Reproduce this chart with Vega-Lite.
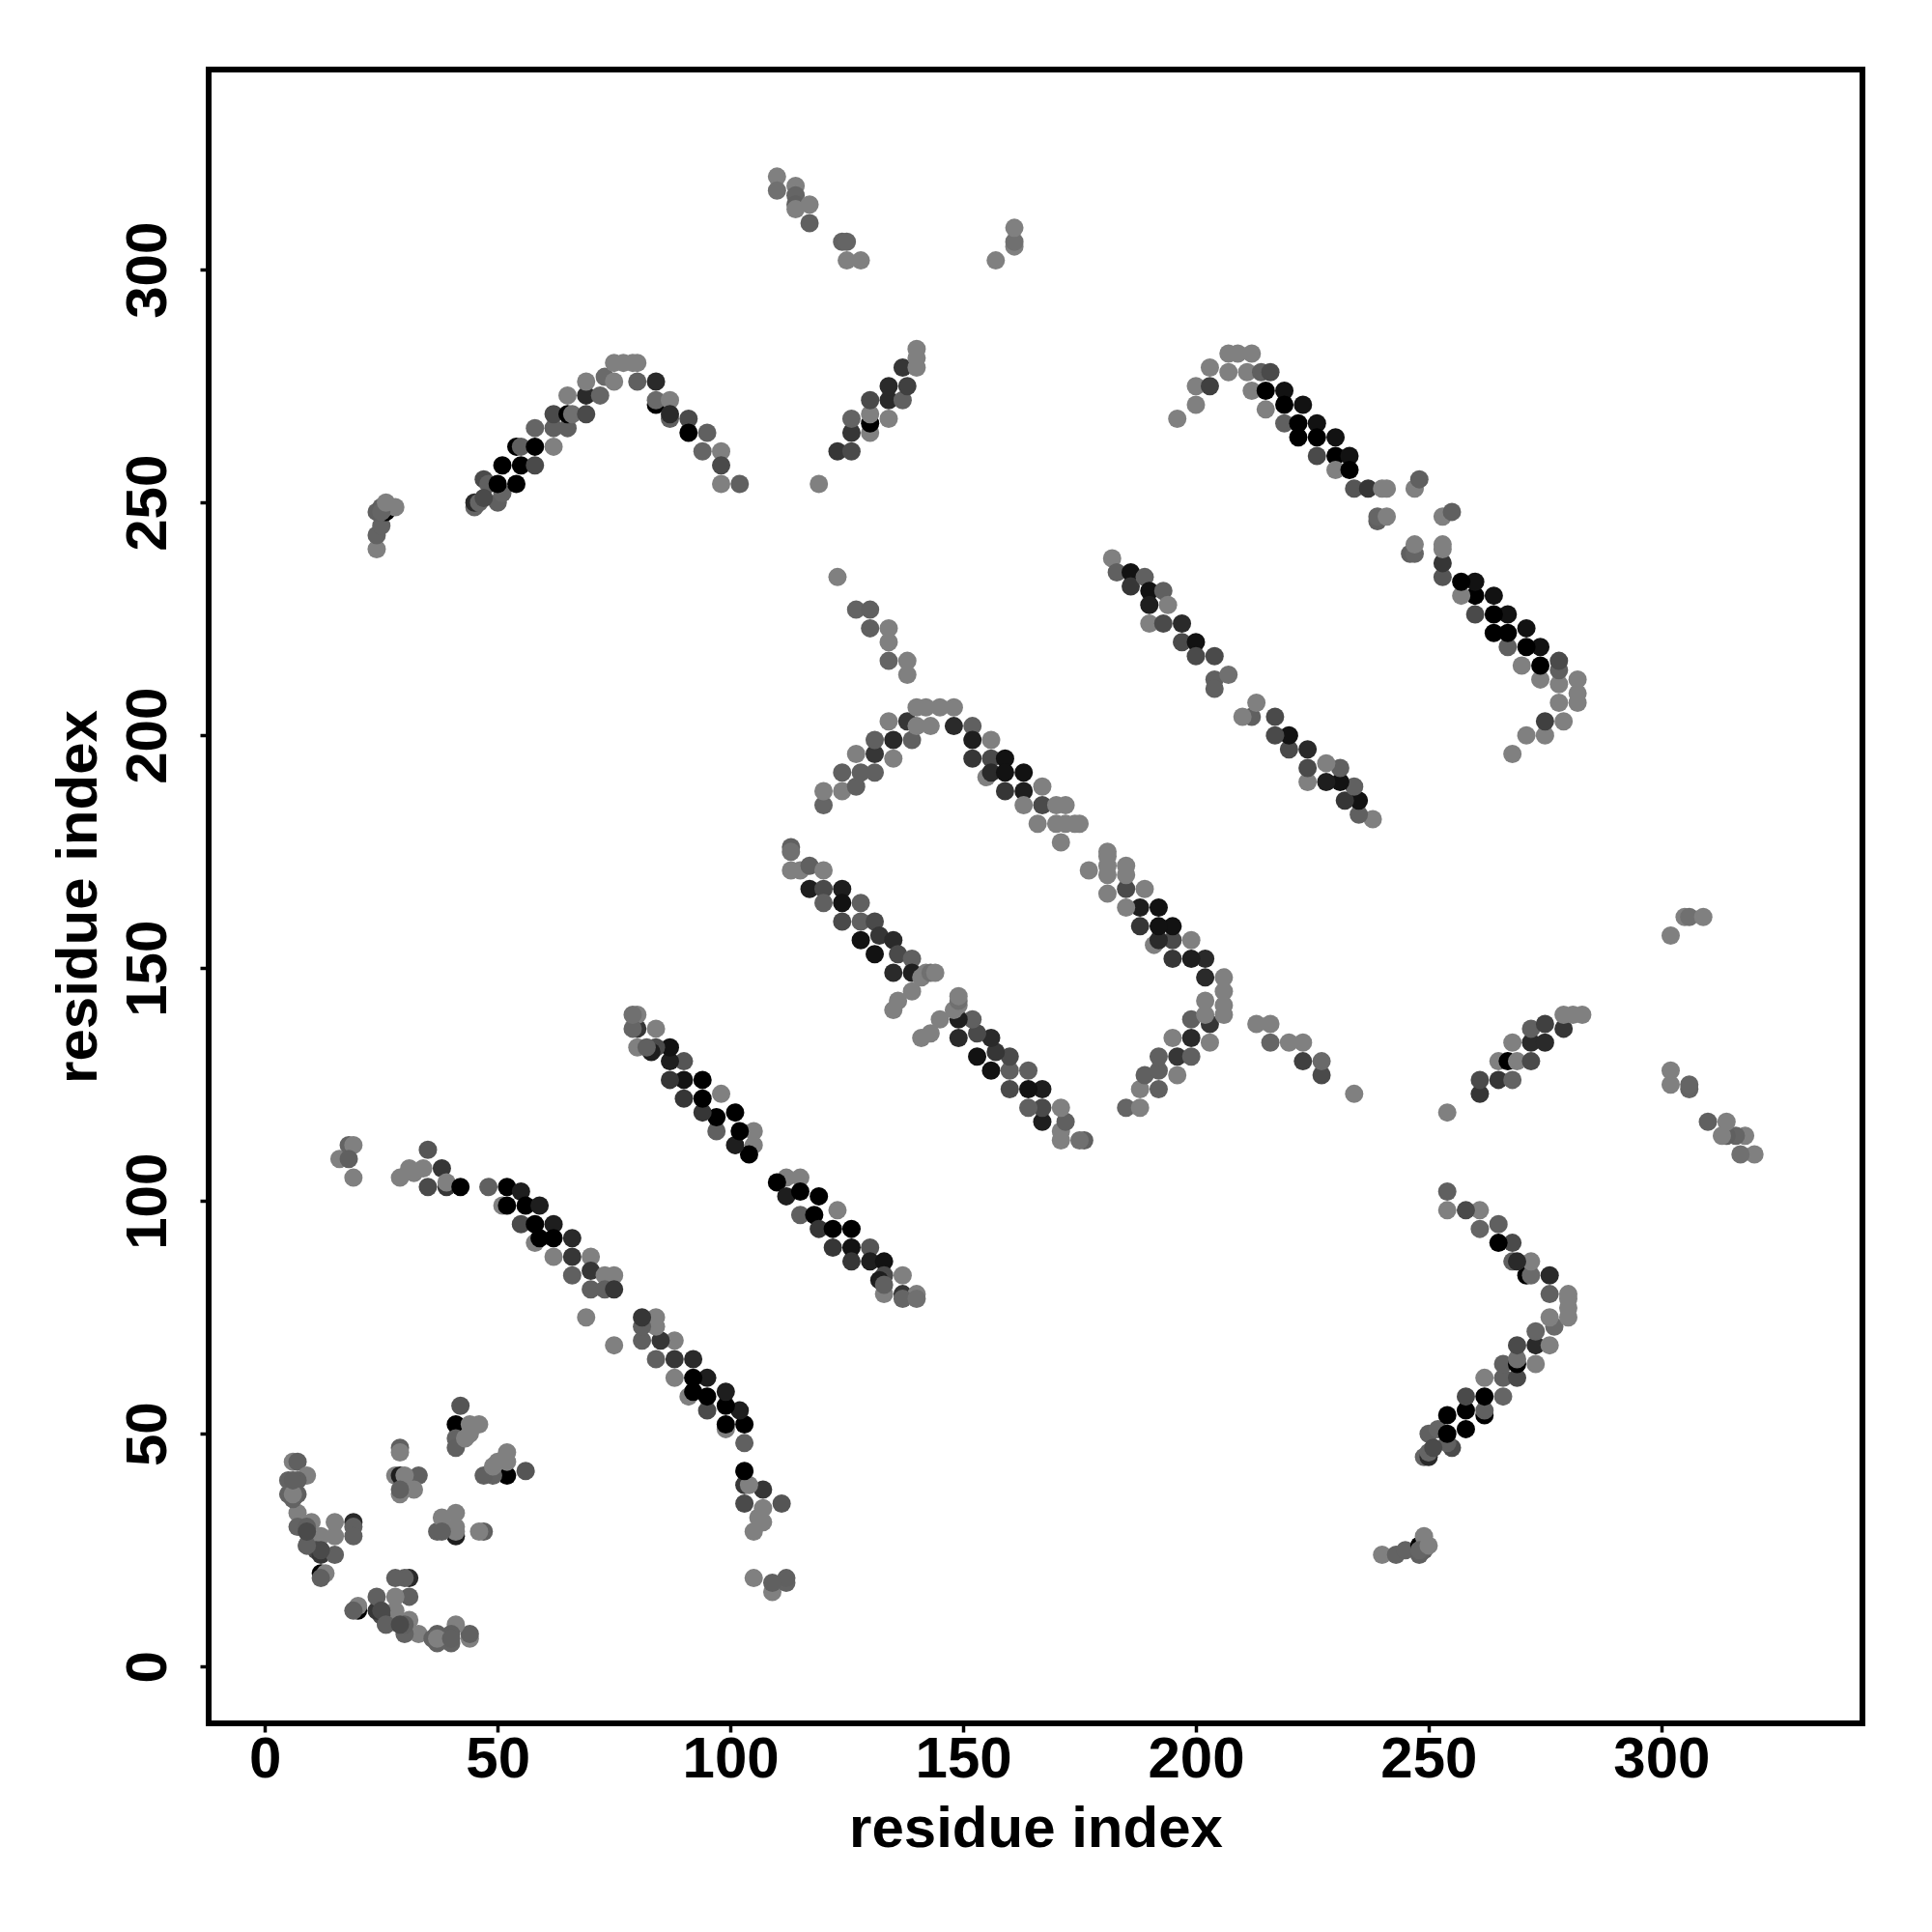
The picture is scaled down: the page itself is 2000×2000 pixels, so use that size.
{"$schema":"https://vega.github.io/schema/vega-lite/v6.json","width":1712,"height":1712,"autosize":"none","padding":{"left":216,"top":72,"right":72,"bottom":216},"background":"white","config":{"view":{"stroke":"black","strokeWidth":6,"fill":"white"}},
"data":{"values":[
{"i":6,"j":44,"s":0},{"i":44,"j":6,"s":0},{"i":7,"j":44,"s":0.6},{"i":44,"j":7,"s":0.6},{"i":9,"j":41,"s":0},{"i":41,"j":9,"s":0},{"i":5,"j":40,"s":0.55},{"i":40,"j":5,"s":0.55},{"i":7,"j":40,"s":0.6},{"i":40,"j":7,"s":0.6},{"i":5,"j":37,"s":0.55},{"i":37,"j":5,"s":0.55},{"i":7,"j":37,"s":0.6},{"i":37,"j":7,"s":0.6},{"i":7,"j":33,"s":0},{"i":33,"j":7,"s":0},{"i":7,"j":30,"s":0.55},{"i":30,"j":7,"s":0.55},{"i":10,"j":31,"s":0},{"i":31,"j":10,"s":0},{"i":9,"j":30,"s":0.6},{"i":30,"j":9,"s":0.6},{"i":9,"j":26,"s":0},{"i":26,"j":9,"s":0},{"i":10,"j":28,"s":0.6},{"i":28,"j":10,"s":0.6},{"i":12,"j":28,"s":0},{"i":28,"j":12,"s":0},{"i":11,"j":25,"s":0.7},{"i":25,"j":11,"s":0.7},{"i":12,"j":24,"s":0.8},{"i":24,"j":12,"s":0.8},{"i":15,"j":24,"s":0.6},{"i":24,"j":15,"s":0.6},{"i":15,"j":31,"s":0},{"i":31,"j":15,"s":0.6},{"i":15,"j":28,"s":0},{"i":28,"j":15,"s":0},{"i":19,"j":31,"s":0.85},{"i":31,"j":19,"s":0.85},{"i":19,"j":30,"s":0.6},{"i":30,"j":19,"s":0.6},{"i":19,"j":28,"s":0.6},{"i":28,"j":19,"s":0.6},{"i":12,"j":20,"s":1},{"i":20,"j":12,"s":1},{"i":13,"j":20,"s":0},{"i":20,"j":13,"s":0},{"i":12,"j":19,"s":0.6},{"i":19,"j":12,"s":0.6},
{"i":29,"j":47,"s":0.6},{"i":47,"j":29,"s":0.6},{"i":29,"j":46,"s":0},{"i":46,"j":29,"s":0},{"i":28,"j":41,"s":0},{"i":41,"j":28,"s":0.9},{"i":29,"j":41,"s":0.9},{"i":41,"j":29,"s":0},{"i":33,"j":41,"s":0.6},{"i":41,"j":33,"s":0},{"i":30,"j":41,"s":0},{"i":41,"j":30,"s":0},{"i":29,"j":37,"s":0},{"i":37,"j":29,"s":0.6},{"i":32,"j":38,"s":0},{"i":38,"j":32,"s":0},{"i":29,"j":38,"s":0.6},{"i":38,"j":29,"s":0.6},
{"i":42,"j":56,"s":0.65},{"i":56,"j":42,"s":0.65},{"i":41,"j":52,"s":1},{"i":52,"j":41,"s":1},{"i":44,"j":52,"s":0},{"i":52,"j":44,"s":0},{"i":46,"j":52,"s":0},{"i":52,"j":46,"s":0},{"i":41,"j":49,"s":0.55},{"i":49,"j":41,"s":0.55},{"i":41,"j":47,"s":0.6},{"i":47,"j":41,"s":0.6},{"i":44,"j":50,"s":0},{"i":50,"j":44,"s":0},{"i":43,"j":49,"s":0},{"i":49,"j":43,"s":0},
{"i":25,"j":12,"s":0.7},{"i":12,"j":25,"s":0.7},{"i":26,"j":9,"s":0.6},{"i":9,"j":26,"s":0.6},{"i":29,"j":9,"s":0.7},{"i":9,"j":29,"s":0.7},{"i":36,"j":6,"s":0.55},{"i":6,"j":36,"s":0.55},{"i":37,"j":6,"s":0},{"i":6,"j":37,"s":0},{"i":40,"j":6,"s":0.6},{"i":6,"j":40,"s":0.6},
{"i":16,"j":109,"s":0},{"i":109,"j":16,"s":0},{"i":18,"j":112,"s":0.55},{"i":112,"j":18,"s":0.55},{"i":19,"j":112,"s":0},{"i":112,"j":19,"s":0.6},{"i":18,"j":109,"s":0.6},{"i":109,"j":18,"s":0.6},{"i":19,"j":105,"s":0},{"i":105,"j":19,"s":0},{"i":29,"j":105,"s":0},{"i":105,"j":29,"s":0},{"i":31,"j":107,"s":0},{"i":107,"j":31,"s":0},{"i":32,"j":106,"s":0},{"i":106,"j":32,"s":0},{"i":35,"j":111,"s":0.65},{"i":111,"j":35,"s":0.65},{"i":34,"j":107,"s":0},{"i":107,"j":34,"s":0},{"i":35,"j":103,"s":0.7},{"i":103,"j":35,"s":0.7},{"i":38,"j":107,"s":0.8},{"i":107,"j":38,"s":0.8},{"i":39,"j":103,"s":0.8},{"i":103,"j":39,"s":0.8},{"i":39,"j":104,"s":0},{"i":104,"j":39,"s":0},{"i":42,"j":103,"s":1},{"i":103,"j":42,"s":1},
{"i":48,"j":103,"s":0.6},{"i":103,"j":48,"s":0.6},{"i":52,"j":103,"s":1},{"i":103,"j":52,"s":1},{"i":55,"j":102,"s":0.9},{"i":102,"j":55,"s":0.9},{"i":51,"j":99,"s":0},{"i":99,"j":51,"s":0},{"i":52,"j":99,"s":1},{"i":99,"j":52,"s":1},{"i":56,"j":99,"s":1},{"i":99,"j":56,"s":1},{"i":59,"j":99,"s":0.9},{"i":99,"j":59,"s":0.9},{"i":55,"j":95,"s":0.7},{"i":95,"j":55,"s":0.7},{"i":58,"j":95,"s":1},{"i":95,"j":58,"s":1},{"i":62,"j":95,"s":0.9},{"i":95,"j":62,"s":0.9},{"i":58,"j":91,"s":0},{"i":91,"j":58,"s":0},{"i":59,"j":92,"s":1},{"i":92,"j":59,"s":1},{"i":62,"j":92,"s":1},{"i":92,"j":62,"s":1},{"i":66,"j":92,"s":0.85},{"i":92,"j":66,"s":0.85},{"i":62,"j":88,"s":0},{"i":88,"j":62,"s":0},{"i":66,"j":88,"s":0.8},{"i":88,"j":66,"s":0.8},{"i":70,"j":88,"s":0},{"i":88,"j":70,"s":0},{"i":66,"j":84,"s":0.6},{"i":84,"j":66,"s":0.6},{"i":70,"j":85,"s":0.8},{"i":85,"j":70,"s":0.8},{"i":73,"j":84,"s":0},{"i":84,"j":73,"s":0},{"i":75,"j":84,"s":0},{"i":84,"j":75,"s":0},{"i":70,"j":81,"s":0.6},{"i":81,"j":70,"s":0.6},{"i":73,"j":81,"s":0.6},{"i":81,"j":73,"s":0.6},{"i":75,"j":81,"s":0.8},{"i":81,"j":75,"s":0.8},{"i":69,"j":75,"s":0},{"i":75,"j":69,"s":0},
{"i":105,"j":112,"s":0},{"i":112,"j":105,"s":0},{"i":104,"j":110,"s":1},{"i":110,"j":104,"s":1},{"i":105,"j":115,"s":0},{"i":115,"j":105,"s":0},{"i":101,"j":112,"s":0.9},{"i":112,"j":101,"s":0.9},{"i":102,"j":115,"s":1},{"i":115,"j":102,"s":1},{"i":101,"j":119,"s":1},{"i":119,"j":101,"s":1},{"i":97,"j":115,"s":0.6},{"i":115,"j":97,"s":0.6},{"i":97,"j":118,"s":1},{"i":118,"j":97,"s":1},{"i":98,"j":123,"s":0},{"i":123,"j":98,"s":0},{"i":94,"j":119,"s":0.8},{"i":119,"j":94,"s":0.8},{"i":94,"j":122,"s":1},{"i":122,"j":94,"s":1},{"i":94,"j":126,"s":1},{"i":126,"j":94,"s":1},{"i":90,"j":122,"s":0.8},{"i":122,"j":90,"s":0.8},{"i":90,"j":126,"s":0.95},{"i":126,"j":90,"s":0.95},{"i":90,"j":130,"s":0.65},{"i":130,"j":90,"s":0.65},{"i":87,"j":126,"s":0.8},{"i":126,"j":87,"s":0.8},{"i":87,"j":130,"s":0.9},{"i":130,"j":87,"s":0.9},{"i":87,"j":133,"s":0.95},{"i":133,"j":87,"s":0.95},{"i":84,"j":133,"s":0.7},{"i":133,"j":84,"s":0.7},{"i":83,"j":132,"s":0.9},{"i":132,"j":83,"s":0.9},{"i":84,"j":137,"s":0},{"i":137,"j":84,"s":0},{"i":80,"j":133,"s":0},{"i":133,"j":80,"s":0},{"i":80,"j":137,"s":0.8},{"i":137,"j":80,"s":0.8},{"i":80,"j":140,"s":0},{"i":140,"j":80,"s":0},{"i":79,"j":137,"s":0.5},{"i":137,"j":79,"s":0.5},{"i":79,"j":140,"s":0.3},{"i":140,"j":79,"s":0.3},{"i":82,"j":133,"s":0.6},{"i":133,"j":82,"s":0.6},
{"i":24,"j":240,"s":0},{"i":240,"j":24,"s":0},{"i":24,"j":243,"s":0.55},{"i":243,"j":24,"s":0.55},{"i":25,"j":245,"s":0.55},{"i":245,"j":25,"s":0.55},{"i":24,"j":248,"s":0.6},{"i":248,"j":24,"s":0.6},{"i":25,"j":249,"s":0.6},{"i":249,"j":25,"s":0.6},{"i":26,"j":248,"s":1},{"i":248,"j":26,"s":1},{"i":26,"j":249,"s":0},{"i":249,"j":26,"s":0},{"i":28,"j":249,"s":0},{"i":249,"j":28,"s":0},{"i":25,"j":248,"s":0.5},{"i":248,"j":25,"s":0.5},{"i":26,"j":250,"s":0},{"i":250,"j":26,"s":0},
{"i":45,"j":249,"s":0.5},{"i":249,"j":45,"s":0.5},{"i":45,"j":250,"s":0.85},{"i":250,"j":45,"s":0.85},{"i":46,"j":250,"s":0.5},{"i":250,"j":46,"s":0.5},{"i":50,"j":250,"s":0.6},{"i":250,"j":50,"s":0.6},{"i":47,"j":255,"s":0.7},{"i":255,"j":47,"s":0.7},{"i":48,"j":254,"s":0.6},{"i":254,"j":48,"s":0.6},{"i":47,"j":251,"s":0.7},{"i":251,"j":47,"s":0.7},{"i":51,"j":252,"s":0.5},{"i":252,"j":51,"s":0.5},{"i":50,"j":254,"s":1},{"i":254,"j":50,"s":1},{"i":54,"j":254,"s":1},{"i":254,"j":54,"s":1},{"i":51,"j":258,"s":1},{"i":258,"j":51,"s":1},{"i":55,"j":258,"s":1},{"i":258,"j":55,"s":1},{"i":58,"j":258,"s":0.7},{"i":258,"j":58,"s":0.7},{"i":54,"j":262,"s":1},{"i":262,"j":54,"s":1},{"i":55,"j":262,"s":0.6},{"i":262,"j":55,"s":0.6},{"i":58,"j":262,"s":1},{"i":262,"j":58,"s":1},{"i":62,"j":262,"s":0},{"i":262,"j":62,"s":0},{"i":58,"j":266,"s":0.5},{"i":266,"j":58,"s":0.5},{"i":62,"j":266,"s":0.6},{"i":266,"j":62,"s":0.6},{"i":65,"j":266,"s":0.6},{"i":266,"j":65,"s":0.6},{"i":62,"j":269,"s":0.7},{"i":269,"j":62,"s":0.7},{"i":65,"j":269,"s":1},{"i":269,"j":65,"s":1},{"i":66,"j":269,"s":0.3},{"i":269,"j":66,"s":0.3},{"i":69,"j":269,"s":0.7},{"i":269,"j":69,"s":0.7},{"i":65,"j":273,"s":0},{"i":273,"j":65,"s":0},{"i":69,"j":273,"s":0.85},{"i":273,"j":69,"s":0.85},{"i":72,"j":273,"s":0.5},{"i":273,"j":72,"s":0.5},{"i":69,"j":276,"s":0},{"i":276,"j":69,"s":0},{"i":73,"j":277,"s":0.4},{"i":277,"j":73,"s":0.4},{"i":75,"j":276,"s":0},{"i":276,"j":75,"s":0},{"i":75,"j":280,"s":0},{"i":280,"j":75,"s":0},{"i":77,"j":280,"s":0},{"i":280,"j":77,"s":0},{"i":79,"j":280,"s":0},{"i":280,"j":79,"s":0},{"i":80,"j":280,"s":0},{"i":280,"j":80,"s":0},{"i":80,"j":276,"s":0.6},{"i":276,"j":80,"s":0.6},{"i":84,"j":276,"s":0.85},{"i":276,"j":84,"s":0.85},{"i":84,"j":271,"s":1},{"i":271,"j":84,"s":1},{"i":84,"j":272,"s":0.4},{"i":272,"j":84,"s":0.4},{"i":87,"j":272,"s":0},{"i":272,"j":87,"s":0},{"i":87,"j":268,"s":0.6},{"i":268,"j":87,"s":0.6},{"i":87,"j":269,"s":0.85},{"i":269,"j":87,"s":0.85},{"i":91,"j":268,"s":0.7},{"i":268,"j":91,"s":0.7},{"i":91,"j":265,"s":1},{"i":265,"j":91,"s":1},{"i":95,"j":265,"s":0.6},{"i":265,"j":95,"s":0.6},{"i":94,"j":261,"s":0.5},{"i":261,"j":94,"s":0.5},{"i":98,"j":261,"s":0},{"i":261,"j":98,"s":0},{"i":98,"j":258,"s":0.7},{"i":258,"j":98,"s":0.7},{"i":98,"j":254,"s":0},{"i":254,"j":98,"s":0},{"i":102,"j":254,"s":0.6},{"i":254,"j":102,"s":0.6},
{"i":110,"j":320,"s":0},{"i":320,"j":110,"s":0},{"i":110,"j":317,"s":0.3},{"i":317,"j":110,"s":0.3},{"i":114,"j":318,"s":0},{"i":318,"j":114,"s":0},{"i":114,"j":316,"s":0.5},{"i":316,"j":114,"s":0.5},{"i":114,"j":314,"s":0.6},{"i":314,"j":114,"s":0.6},{"i":114,"j":313,"s":0},{"i":313,"j":114,"s":0},{"i":117,"j":314,"s":0},{"i":314,"j":117,"s":0},{"i":117,"j":310,"s":0.6},{"i":310,"j":117,"s":0.6},{"i":124,"j":306,"s":0.55},{"i":306,"j":124,"s":0.55},{"i":125,"j":306,"s":0.5},{"i":306,"j":125,"s":0.5},{"i":125,"j":302,"s":0},{"i":302,"j":125,"s":0},{"i":128,"j":302,"s":0},{"i":302,"j":128,"s":0},{"i":157,"j":302,"s":0},{"i":302,"j":157,"s":0},{"i":161,"j":305,"s":0},{"i":305,"j":161,"s":0},{"i":161,"j":306,"s":0.3},{"i":306,"j":161,"s":0.3},{"i":161,"j":309,"s":0},{"i":309,"j":161,"s":0},
{"i":119,"j":254,"s":0},{"i":254,"j":119,"s":0},{"i":123,"j":261,"s":0.8},{"i":261,"j":123,"s":0.8},{"i":126,"j":261,"s":0.7},{"i":261,"j":126,"s":0.7},{"i":126,"j":265,"s":0.8},{"i":265,"j":126,"s":0.8},{"i":130,"j":265,"s":0},{"i":265,"j":130,"s":0},{"i":126,"j":268,"s":0.55},{"i":268,"j":126,"s":0.55},{"i":130,"j":267,"s":1},{"i":267,"j":130,"s":1},{"i":130,"j":269,"s":0},{"i":269,"j":130,"s":0},{"i":134,"j":268,"s":0},{"i":268,"j":134,"s":0},{"i":130,"j":272,"s":0.7},{"i":272,"j":130,"s":0.7},{"i":134,"j":272,"s":0.85},{"i":272,"j":134,"s":0.85},{"i":134,"j":275,"s":0.85},{"i":275,"j":134,"s":0.85},{"i":137,"j":272,"s":0.6},{"i":272,"j":137,"s":0.6},{"i":138,"j":275,"s":0.75},{"i":275,"j":138,"s":0.75},{"i":137,"j":279,"s":0.8},{"i":279,"j":137,"s":0.8},{"i":140,"j":279,"s":0},{"i":279,"j":140,"s":0},{"i":140,"j":283,"s":0},{"i":283,"j":140,"s":0},{"i":140,"j":281,"s":0},{"i":281,"j":140,"s":0},
{"i":123,"j":234,"s":0},{"i":234,"j":123,"s":0},{"i":127,"j":227,"s":0.55},{"i":227,"j":127,"s":0.7},{"i":130,"j":227,"s":0.6},{"i":227,"j":130,"s":0.4},{"i":130,"j":223,"s":0.6},{"i":223,"j":130,"s":0.75},{"i":134,"j":223,"s":0},{"i":223,"j":134,"s":0},{"i":134,"j":220,"s":0},{"i":220,"j":134,"s":0},{"i":134,"j":216,"s":0.5},{"i":216,"j":134,"s":0.5},{"i":138,"j":216,"s":0},{"i":216,"j":138,"s":0},{"i":138,"j":213,"s":0},{"i":213,"j":138,"s":0},
{"i":120,"j":185,"s":0.5},{"i":185,"j":120,"s":0.5},{"i":120,"j":188,"s":0},{"i":188,"j":120,"s":0},{"i":124,"j":188,"s":0},{"i":188,"j":124,"s":0},{"i":127,"j":189,"s":0.6},{"i":189,"j":127,"s":0.6},{"i":124,"j":192,"s":0.6},{"i":192,"j":124,"s":0.6},{"i":128,"j":192,"s":0.6},{"i":192,"j":128,"s":0.6},{"i":131,"j":192,"s":0.6},{"i":192,"j":131,"s":0.6},{"i":127,"j":196,"s":0},{"i":196,"j":127,"s":0},{"i":131,"j":196,"s":0.8},{"i":196,"j":131,"s":0.8},{"i":135,"j":195,"s":0},{"i":195,"j":135,"s":0},{"i":131,"j":199,"s":0.6},{"i":199,"j":131,"s":0.6},{"i":135,"j":199,"s":0.85},{"i":199,"j":135,"s":0.85},{"i":139,"j":199,"s":0.6},{"i":199,"j":139,"s":0.6},{"i":134,"j":203,"s":0},{"i":203,"j":134,"s":0},{"i":138,"j":203,"s":0.8},{"i":203,"j":138,"s":0.8},{"i":140,"j":202,"s":0},{"i":202,"j":140,"s":0},{"i":143,"j":202,"s":0},{"i":202,"j":143,"s":0},{"i":140,"j":206,"s":0},{"i":206,"j":140,"s":0},{"i":142,"j":206,"s":0},{"i":206,"j":142,"s":0},{"i":145,"j":206,"s":0},{"i":206,"j":145,"s":0},{"i":148,"j":206,"s":0},{"i":206,"j":148,"s":0},
{"i":148,"j":202,"s":0.85},{"i":202,"j":148,"s":0.85},{"i":152,"j":202,"s":0.6},{"i":202,"j":152,"s":0.85},{"i":152,"j":199,"s":0.9},{"i":199,"j":152,"s":0.9},{"i":156,"j":199,"s":0},{"i":199,"j":156,"s":0},{"i":152,"j":195,"s":0.8},{"i":195,"j":152,"s":0.8},{"i":156,"j":195,"s":0.7},{"i":195,"j":156,"s":0.7},{"i":159,"j":195,"s":0.95},{"i":195,"j":159,"s":0.95},{"i":155,"j":191,"s":0},{"i":191,"j":155,"s":0},{"i":156,"j":192,"s":0.85},{"i":192,"j":156,"s":0.85},{"i":159,"j":192,"s":0.95},{"i":192,"j":159,"s":0.95},{"i":163,"j":192,"s":0.95},{"i":192,"j":163,"s":0.95},{"i":159,"j":188,"s":0.8},{"i":188,"j":159,"s":0.8},{"i":163,"j":188,"s":0.9},{"i":188,"j":163,"s":0.9},{"i":167,"j":189,"s":0},{"i":189,"j":167,"s":0},{"i":163,"j":185,"s":0},{"i":185,"j":163,"s":0},{"i":167,"j":185,"s":0.7},{"i":185,"j":167,"s":0.7},{"i":170,"j":185,"s":0},{"i":185,"j":170,"s":0},{"i":172,"j":185,"s":0},{"i":185,"j":172,"s":0},{"i":166,"j":181,"s":0},{"i":181,"j":166,"s":0},{"i":170,"j":181,"s":0},{"i":181,"j":170,"s":0},{"i":172,"j":181,"s":0},{"i":181,"j":172,"s":0},{"i":174,"j":181,"s":0},{"i":181,"j":174,"s":0},{"i":175,"j":181,"s":0},{"i":181,"j":175,"s":0},{"i":171,"j":177,"s":0},{"i":177,"j":171,"s":0},
{"i":113,"j":176,"s":0.6},{"i":176,"j":113,"s":0.6},{"i":113,"j":175,"s":0.3},{"i":175,"j":113,"s":0.3},{"i":113,"j":171,"s":0},{"i":171,"j":113,"s":0},{"i":115,"j":171,"s":0},{"i":171,"j":115,"s":0},{"i":117,"j":172,"s":0.6},{"i":172,"j":117,"s":0.6},{"i":120,"j":171,"s":0},{"i":171,"j":120,"s":0},{"i":117,"j":167,"s":0.9},{"i":167,"j":117,"s":0.9},{"i":120,"j":167,"s":0.7},{"i":167,"j":120,"s":0.7},{"i":124,"j":167,"s":0.9},{"i":167,"j":124,"s":0.9},{"i":120,"j":164,"s":0.6},{"i":164,"j":120,"s":0.6},{"i":124,"j":164,"s":0.95},{"i":164,"j":124,"s":0.95},{"i":128,"j":164,"s":0.6},{"i":164,"j":128,"s":0.6},{"i":124,"j":160,"s":0.7},{"i":160,"j":124,"s":0.7},{"i":128,"j":160,"s":0.6},{"i":160,"j":128,"s":0.6},{"i":131,"j":160,"s":0.7},{"i":160,"j":131,"s":0.7},{"i":128,"j":156,"s":0.95},{"i":156,"j":128,"s":0.95},{"i":132,"j":157,"s":0.8},{"i":157,"j":132,"s":0.8},{"i":135,"j":156,"s":0.85},{"i":156,"j":135,"s":0.85},{"i":131,"j":153,"s":0.95},{"i":153,"j":131,"s":0.95},{"i":136,"j":153,"s":0.7},{"i":153,"j":136,"s":0.7},{"i":139,"j":152,"s":0.6},{"i":152,"j":139,"s":0.6},{"i":135,"j":149,"s":0.85},{"i":149,"j":135,"s":0.85},{"i":139,"j":149,"s":0.9},{"i":149,"j":139,"s":0.9},{"i":142,"j":149,"s":0},{"i":149,"j":142,"s":0},{"i":139,"j":145,"s":0},{"i":145,"j":139,"s":0},{"i":141,"j":148,"s":0},{"i":148,"j":141,"s":0},{"i":136,"j":143,"s":0},{"i":143,"j":136,"s":0},{"i":135,"j":141,"s":0},{"i":141,"j":135,"s":0},{"i":143,"j":149,"s":0.3},{"i":149,"j":143,"s":0.3},{"i":144,"j":149,"s":0},{"i":149,"j":144,"s":0},
{"i":182,"j":238,"s":0},{"i":238,"j":182,"s":0},{"i":183,"j":235,"s":0.6},{"i":235,"j":183,"s":0.6},{"i":186,"j":235,"s":0.95},{"i":235,"j":186,"s":0.95},{"i":186,"j":232,"s":0.8},{"i":232,"j":186,"s":0.8},{"i":189,"j":234,"s":0.6},{"i":234,"j":189,"s":0.6},{"i":190,"j":231,"s":0.95},{"i":231,"j":190,"s":0.95},{"i":193,"j":231,"s":0.6},{"i":231,"j":193,"s":0.6},{"i":190,"j":228,"s":0.9},{"i":228,"j":190,"s":0.9},{"i":194,"j":228,"s":0},{"i":228,"j":194,"s":0},{"i":190,"j":224,"s":0},{"i":224,"j":190,"s":0},{"i":193,"j":224,"s":0.7},{"i":224,"j":193,"s":0.7},{"i":197,"j":224,"s":0.85},{"i":224,"j":197,"s":0.85},{"i":197,"j":220,"s":0.7},{"i":220,"j":197,"s":0.7},{"i":200,"j":220,"s":0.95},{"i":220,"j":200,"s":0.95},{"i":200,"j":217,"s":0.7},{"i":217,"j":200,"s":0.7},{"i":204,"j":217,"s":0.7},{"i":217,"j":204,"s":0.7},{"i":204,"j":212,"s":0.6},{"i":212,"j":204,"s":0.6},{"i":207,"j":213,"s":0.3},{"i":213,"j":207,"s":0},{"i":204,"j":210,"s":0.6},{"i":210,"j":204,"s":0},
{"i":196,"j":268,"s":0},{"i":268,"j":196,"s":0},{"i":200,"j":271,"s":0},{"i":271,"j":200,"s":0},{"i":200,"j":275,"s":0},{"i":275,"j":200,"s":0},{"i":203,"j":275,"s":0.75},{"i":275,"j":203,"s":0.75},{"i":203,"j":279,"s":0},{"i":279,"j":203,"s":0},{"i":207,"j":278,"s":0},{"i":278,"j":207,"s":0},{"i":207,"j":282,"s":0},{"i":282,"j":207,"s":0},{"i":209,"j":282,"s":0},{"i":282,"j":209,"s":0},{"i":212,"j":282,"s":0},{"i":282,"j":212,"s":0},
{"i":211,"j":278,"s":0},{"i":278,"j":211,"s":0},{"i":214,"j":278,"s":0.6},{"i":278,"j":214,"s":0.6},{"i":216,"j":278,"s":0.7},{"i":278,"j":216,"s":0.7},{"i":212,"j":274,"s":0},{"i":274,"j":212,"s":0},{"i":215,"j":274,"s":1},{"i":274,"j":215,"s":1},{"i":219,"j":274,"s":0.95},{"i":274,"j":219,"s":0.95},{"i":215,"j":270,"s":0},{"i":270,"j":215,"s":0},{"i":219,"j":271,"s":1},{"i":271,"j":219,"s":1},{"i":223,"j":271,"s":0.95},{"i":271,"j":223,"s":0.95},{"i":219,"j":267,"s":0.6},{"i":267,"j":219,"s":0.6},{"i":222,"j":267,"s":1},{"i":267,"j":222,"s":1},{"i":226,"j":267,"s":0.95},{"i":267,"j":226,"s":0.95},{"i":222,"j":264,"s":1},{"i":264,"j":222,"s":1},{"i":226,"j":264,"s":1},{"i":264,"j":226,"s":1},{"i":230,"j":264,"s":0.95},{"i":264,"j":230,"s":0.95},{"i":226,"j":260,"s":0.7},{"i":260,"j":226,"s":0.7},{"i":230,"j":260,"s":1},{"i":260,"j":230,"s":1},{"i":233,"j":260,"s":0.95},{"i":260,"j":233,"s":0.95},{"i":230,"j":257,"s":0},{"i":257,"j":230,"s":0},{"i":233,"j":257,"s":1},{"i":257,"j":233,"s":1},{"i":234,"j":253,"s":0.65},{"i":253,"j":234,"s":0.65},{"i":237,"j":253,"s":0.8},{"i":253,"j":237,"s":0.8},{"i":240,"j":253,"s":0},{"i":253,"j":240,"s":0},{"i":241,"j":253,"s":0},{"i":253,"j":241,"s":0},{"i":239,"j":246,"s":0.6},{"i":246,"j":239,"s":0.6},{"i":239,"j":247,"s":0.5},{"i":247,"j":239,"s":0.5},{"i":241,"j":247,"s":0},{"i":247,"j":241,"s":0},{"i":247,"j":253,"s":0},{"i":253,"j":247,"s":0},{"i":248,"j":255,"s":0.6},{"i":255,"j":248,"s":0.6}
]},
"mark":{"type":"circle","size":361,"opacity":1},
"encoding":{
"x":{"field":"i","type":"quantitative","scale":{"domain":[-12.1,343.2],"nice":false,"zero":false},"axis":{"values":[0,50,100,150,200,250,300],"grid":false,"domain":false,"ticks":true,"tickSize":9,"tickWidth":3.5,"tickColor":"black","labelFont":"Liberation Sans","labelFontWeight":"bold","labelFontSize":60,"labelColor":"black","labelPadding":46,"labelBaseline":"alphabetic","labelAlign":"center","labelFlush":false,"labelOverlap":false,"title":"residue index","titleFont":"Liberation Sans","titleFontWeight":"bold","titleFontSize":60,"titleColor":"black","titleX":856,"titleY":127,"titleBaseline":"alphabetic","titleAlign":"center"}},
"y":{"field":"j","type":"quantitative","scale":{"domain":[-12.2,343],"nice":false,"zero":false},"axis":{"values":[0,50,100,150,200,250,300],"grid":false,"domain":false,"ticks":true,"tickSize":9,"tickWidth":3.5,"tickColor":"black","labelFont":"Liberation Sans","labelFontWeight":"bold","labelFontSize":60,"labelColor":"black","labelAngle":-90,"labelPadding":36,"labelBaseline":"alphabetic","labelAlign":"center","labelFlush":false,"labelOverlap":false,"title":"residue index","titleFont":"Liberation Sans","titleFontWeight":"bold","titleFontSize":60,"titleColor":"black","titleAngle":-90,"titleX":-117,"titleY":856,"titleBaseline":"alphabetic","titleAlign":"center"}},
"color":{"field":"s","type":"quantitative","legend":null,"scale":{"domain":[0,0.6,0.8,1],"range":["#808080","#606060","#363636","#000000"]}}
}}
